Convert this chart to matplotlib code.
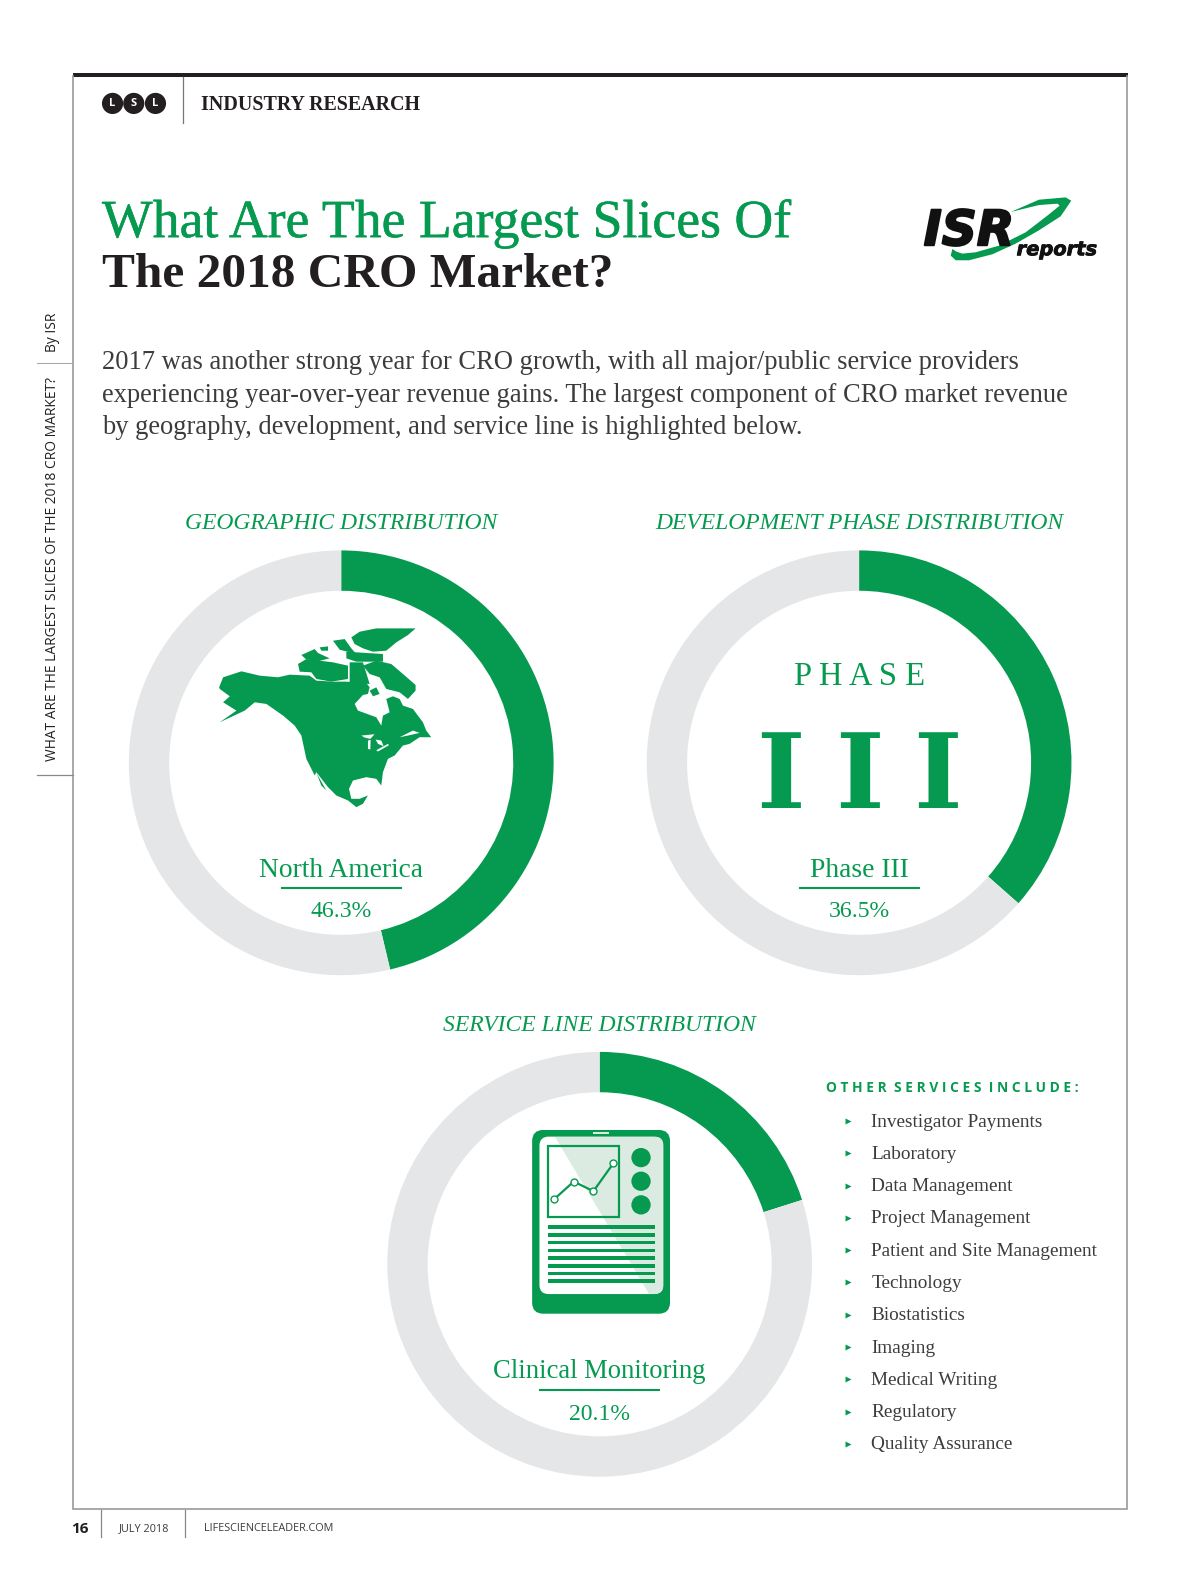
import numpy as np
import matplotlib
matplotlib.use('Agg')
import matplotlib.pyplot as plt
import matplotlib.patheffects as pe
from matplotlib.patches import Circle, FancyBboxPatch, Polygon, Rectangle

# chart values
charts = ['GEOGRAPHIC DISTRIBUTION', 'DEVELOPMENT PHASE DISTRIBUTION', 'SERVICE LINE DISTRIBUTION']
leaders = ['North America', 'Phase III', 'Clinical Monitoring']
shares = [46.3, 36.5, 20.1]
others = ['Investigator Payments', 'Laboratory', 'Data Management', 'Project Management',
          'Patient and Site Management', 'Technology', 'Biostatistics', 'Imaging',
          'Medical Writing', 'Regulatory', 'Quality Assurance']
body = ['2017 was another strong year for CRO growth, with all major/public service providers',
        'experiencing year-over-year revenue gains. The largest component of CRO market revenue',
        'by geography, development, and service line is highlighted below.']

# where the donuts sit, in page units
centers = [(338, 756), (851, 756), (594, 1253)]

GREEN = '#069a50'
GREY = '#e5e6e7'
INK = '#231f20'
TEXT = '#3c3c3c'
SERIF = 'Liberation Serif'
SANS = 'Open Sans'

# page units are the reference scaled down a little, zoom crops are converted below
S = 1200 / 1187.5
W = 1200 / S * 1.001
H = 1582 / S * 1.0015
R = 210.5
HOLE = 170.5

fig = plt.figure(figsize=(12, 15.82), dpi=100, facecolor='white')
ax = fig.add_axes([0, 0, 1, 1], zorder=5)
ax.set_xlim(0, W)
ax.set_ylim(H, 0)
ax.axis('off')
ax.patch.set_alpha(0)


def zc(pts, x0, y0):
    # crop coordinates (3x) to page units
    return (np.array(pts, dtype=float) / 3 + [x0, y0]) / S


def txt(x, y, s, size, color=TEXT, family=SERIF, **kw):
    kw.setdefault('va', 'baseline')
    return ax.text(x, y, s, fontsize=size, color=color, family=family, **kw)


def heavier(t, width, color):
    t.set_path_effects([pe.withStroke(linewidth=width, foreground=color)])


# donuts
for (cx, cy), share in zip(centers, shares):
    pie_ax = fig.add_axes([(cx - R) / W, 1 - (cy + R) / H, 2 * R / W, 2 * R / H], zorder=1)
    pie_ax.pie([share, 100 - share], colors=[GREEN, GREY], startangle=90, counterclock=False,
               radius=1, wedgeprops={'width': 1 - HOLE / R, 'linewidth': 0})
    pie_ax.set_xlim(-1, 1)
    pie_ax.set_ylim(-1, 1)
    pie_ax.axis('off')

# frame
ax.plot([72.5, 72.5, 1116.5, 1116.5], [75, 1496, 1496, 75], color='#9a9a9a', lw=1.2, solid_joinstyle='miter')
ax.add_patch(Rectangle((72, 72), 1045, 4, fc=INK, ec='none'))
ax.plot([181.5, 181.5], [76, 122], color='#777777', lw=0.9)

# header
for cx, letter in zip([111.5, 132.5, 154], 'LSL'):
    ax.add_patch(Circle((cx, 102.5), 10.5, fc=INK, ec='none'))
    txt(cx, 103, letter, 8, 'white', SANS, ha='center', va='center', weight='bold')
txt(199, 109.5, 'INDUSTRY RESEARCH', 14.4, INK, weight='bold')

# title
heavier(txt(101, 235, 'What Are The Largest Slices Of', 38.7, GREEN), 0.35, GREEN)
txt(101, 284.5, 'The 2018 CRO Market?', 35.6, INK, weight='bold')

# logo
swoosh = [(335, 97), (420, 60), (500, 53), (517, 63), (485, 110), (420, 152), (350, 192),
          (280, 224), (210, 242), (170, 242), (155, 228), (160, 208), (172, 216), (190, 222),
          (230, 218), (300, 198), (380, 158), (445, 108), (482, 78), (476, 72), (420, 76)]
ax.add_patch(Polygon(zc(swoosh, 900, 180), fc=GREEN, ec='none'))
heavier(txt(915, 243, 'ISR', 35, '#111111', 'DejaVu Sans', weight='bold', style='italic'), 1.5, '#111111')
heavier(txt(1007, 253, 'reports', 14, '#111111', 'DejaVu Sans', weight='bold', style='italic'), 0.6, '#111111')

# intro
for i, line in enumerate(body):
    txt(101, 366 + 32 * i, line, 19.12)

# donut headings and labels
heading_y = [524, 524, 1022]
label_y = [(869, 880, 909), (869, 880, 909), (1366, 1378, 1407)]
name_size = [19.8, 19.8, 19.2]
for (cx, cy), name, head, share, hy, (y1, y2, y3), size in zip(centers, leaders, charts, shares, heading_y, label_y, name_size):
    txt(cx, hy, head, 17, GREEN, ha='center', style='italic')
    txt(cx, y1, name, size, GREEN, ha='center')
    ax.plot([cx - 59, cx + 59], [y2, y2], color=GREEN, lw=1.5)
    txt(cx, y3, '%.1f%%' % share, 17.1, GREEN, ha='center')

# phase III
txt(851, 679, 'P H A S E', 23.5, GREEN, ha='center')
for x in [773, 851, 929]:
    txt(x, 801, 'I', 75, GREEN, 'DejaVu Serif', ha='center', weight='bold')

# North America
mainland = [(58, 235), (70, 205), (125, 187), (180, 200), (235, 205), (270, 197), (330, 200),
            (350, 215), (400, 218), (440, 218), (500, 222), (510, 235), (505, 255), (490, 258),
            (465, 285), (475, 305), (530, 325), (545, 350), (550, 320), (570, 310), (560, 270),
            (580, 262), (600, 270), (610, 290), (640, 300), (670, 340), (680, 365), (695, 385),
            (660, 385), (630, 405), (610, 410), (585, 440), (565, 450), (550, 490), (545, 530),
            (530, 510), (500, 505), (460, 515), (448, 540), (455, 570), (480, 570), (505, 560),
            (490, 585), (470, 595), (445, 575), (410, 560), (385, 535), (350, 490), (345, 500),
            (320, 450), (305, 380), (285, 350), (250, 320), (200, 285), (165, 280),
            (135, 305), (60, 340), (110, 305), (70, 280), (90, 262), (60, 240)]
baja = [(350, 492), (360, 510), (380, 545), (365, 530)]
islands = [[(455, 85), (480, 68), (530, 58), (648, 58), (625, 78), (590, 100), (560, 125), (520, 128), (490, 118), (465, 105)],
           [(400, 95), (435, 90), (455, 118), (470, 135), (420, 122)],
           [(440, 128), (550, 135), (550, 158), (470, 158), (440, 148)],
           [(305, 138), (345, 120), (355, 132), (390, 148), (350, 158), (318, 150)],
           [(360, 115), (385, 112), (385, 125), (365, 125)],
           [(295, 165), (320, 150), (400, 160), (445, 170), (445, 210), (395, 218), (350, 210), (335, 190), (300, 188)],
           [(490, 170), (530, 155), (575, 165), (610, 195), (648, 228), (648, 245), (625, 270), (600, 250), (560, 240), (540, 205), (510, 195)],
           [(510, 245), (530, 235), (540, 255), (520, 262)],
           [(450, 160), (490, 160), (510, 225), (450, 222)]]
lakes = [[(485, 380), (525, 376), (512, 390), (495, 386)],
         [(505, 395), (513, 393), (512, 422), (505, 420)],
         [(528, 392), (545, 395), (552, 412), (535, 405)],
         [(530, 424), (565, 405), (568, 409), (535, 428)],
         [(600, 385), (640, 365), (660, 372), (625, 380)]]
ax.add_patch(Polygon(zc(mainland, 200, 610), fc=GREEN, ec='none'))
for shape in islands + [baja]:
    ax.add_patch(Polygon(zc(shape, 200, 610), fc=GREEN, ec='none'))
for shape in lakes:
    ax.add_patch(Polygon(zc(shape, 200, 610), fc='white', ec='none'))

# tablet
def tc(pts):
    return zc(pts, 510, 1110)


a, b = tc([(68, 65), (482, 617)])
ax.add_patch(FancyBboxPatch(a + 11, *(b - a - 22), boxstyle='round,pad=11,rounding_size=11', fc=GREEN, ec='none'))
a, b = tc([(90, 85), (462, 558)])
screen = FancyBboxPatch(a + 9, *(b - a - 18), boxstyle='round,pad=9,rounding_size=9', fc='white', ec='none')
ax.add_patch(screen)
shade = Polygon(tc([(138, 85), (462, 85), (462, 558), (420, 558)]), fc='#dcebe2', ec='none')
ax.add_patch(shade)
shade.set_clip_path(screen)
a, b = tc([(252, 70), (298, 76)])
ax.add_patch(Rectangle(a, *(b - a), fc='#dcebe2', ec='none'))
a, b = tc([(115, 112), (330, 326)])
ax.add_patch(Rectangle(a, *(b - a), fc='none', ec=GREEN, lw=1.6))
for y in [148, 219, 290]:
    ax.add_patch(Circle(tc([(395, y)])[0], 29 / 3 / S, fc=GREEN, ec='none'))
trace = tc([(134, 273), (193, 220), (252, 249), (312, 165)])
ax.plot(trace[:, 0], trace[:, 1], color=GREEN, lw=1.6, marker='o', ms=5, mfc='white', mec=GREEN, mew=1)
for y in [356, 380, 403, 427, 450, 473, 496, 519]:
    a, b = tc([(116, y - 5.5), (436, y + 5.5)])
    ax.add_patch(Rectangle(a, *(b - a), fc=GREEN, ec='none'))

# other services
txt(818, 1082, 'O T H E R  S E R V I C E S  I N C L U D E :', 9.9, GREEN, SANS, weight='bold')
for i, item in enumerate(others):
    y = 1111 + 32 * i
    ax.plot(840, y, marker='>', ms=5, color=GREEN, mec='none')
    txt(863, y + 5.5, item, 13.85)

# side label
txt(55, 754, 'WHAT ARE THE LARGEST SLICES OF THE 2018 CRO MARKET?', 9.9, INK, SANS, rotation=90, ha='left', rotation_mode='anchor')
txt(55, 349, 'By ISR', 9.9, INK, SANS, rotation=90, ha='left', rotation_mode='anchor')
ax.plot([37, 72], [768, 768], color='#888888', lw=0.9)
ax.plot([37, 72], [360, 360], color='#aaaaaa', lw=0.8)

# footer
txt(79, 1519, '16', 11, INK, SANS, weight='bold', ha='center')
ax.plot([100, 100], [1497, 1523], color='#888888', lw=0.9)
ax.plot([183, 183], [1497, 1523], color='#888888', lw=0.9)
txt(118, 1517.5, 'JULY 2018', 7.8, TEXT, SANS)
txt(202, 1517.5, 'LIFESCIENCELEADER.COM', 7.8, TEXT, SANS)

fig.savefig('out.png', dpi=100, facecolor='white')
